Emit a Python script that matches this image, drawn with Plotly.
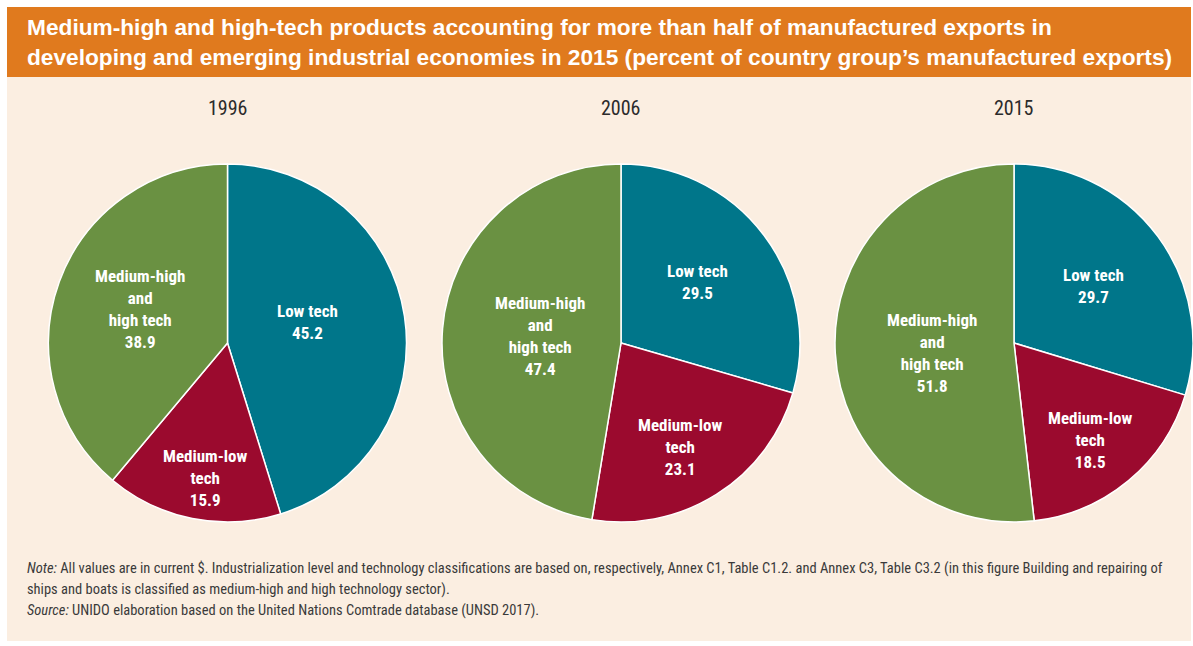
import plotly.graph_objects as go

W, H = 1193, 646

# Share of manufactured exports by technology level (percent)
years = ["1996", "2006", "2015"]
categories = ["Low tech", "Medium-low tech", "Medium-high and high tech"]
low_tech = [45.2, 29.5, 29.7]
medium_low_tech = [15.9, 23.1, 18.5]
medium_high_tech = [38.9, 47.4, 51.8]

# Multi-line forms of the category names used inside the slices
slice_names = ["Low tech", "Medium-low<br>tech", "Medium-high<br>and<br>high tech"]

colors = ["#00768A", "#9B0A2E", "#6A9142"]
ORANGE = "#E07A1E"
BEIGE = "#FBEEE1"
LABEL_FONT = "Liberation Sans Narrow, Roboto Condensed, Roboto, sans-serif"

note_lines = [
    "<i>Note:</i> All values are in current $. Industrialization level and technology classifications are based on, "
    "respectively, Annex C1, Table C1.2. and Annex C3, Table C3.2 (in this figure Building and repairing of",
    "ships and boats is classified as medium-high and high technology sector).",
    "<i>Source:</i> UNIDO elaboration based on the United Nations Comtrade database (UNSD 2017).",
]


def px(x):
    return x / W


def py(y):
    return 1 - y / H


fig = go.Figure()

# pie centres (pixels) and radius
centres_x = [227.5, 621, 1014]
centre_y = 343
radius = 179

for i, yr in enumerate(years):
    vals = [low_tech[i], medium_low_tech[i], medium_high_tech[i]]
    cx = centres_x[i]
    fig.add_trace(go.Pie(
        labels=categories,
        values=vals,
        sort=False,
        direction="clockwise",
        rotation=0,
        textinfo="none",
        hoverinfo="label+value",
        marker=dict(colors=colors, line=dict(color="#FFFFFF", width=1.5)),
        domain=dict(x=[px(cx - radius), px(cx + radius)],
                    y=[py(centre_y + radius), py(centre_y - radius)]),
        showlegend=False,
    ))

# label anchor positions (pixels) for each slice of each pie
label_pos = [
    [(307, 322), (205, 478), (140, 309)],
    [(697, 282), (680, 447), (540, 336)],
    [(1093, 286), (1090, 440), (932, 353)],
]

annotations = []
series = [low_tech, medium_low_tech, medium_high_tech]
for i, yr in enumerate(years):
    annotations.append(dict(
        x=px(centres_x[i]), y=py(108), xref="paper", yref="paper",
        text=yr, showarrow=False, xanchor="center", yanchor="middle",
        font=dict(family=LABEL_FONT, size=20, color="#2B2B2B"),
    ))
    for j in range(3):
        lx, ly = label_pos[i][j]
        annotations.append(dict(
            x=px(lx), y=py(ly), xref="paper", yref="paper",
            text=f"<b>{slice_names[j]}<br>{series[j][i]:.1f}</b>",
            showarrow=False, xanchor="center", yanchor="middle", align="center",
            font=dict(family=LABEL_FONT, size=17, color="#FFFFFF"),
        ))

# heading
annotations.append(dict(
    x=px(25), y=py(42), xref="paper", yref="paper",
    text="<b>Medium-high and high-tech products accounting for more than half of manufactured exports in<br>"
         "developing and emerging industrial economies in 2015 (percent of country group’s manufactured exports)</b>",
    showarrow=False, xanchor="left", yanchor="middle", align="left",
    font=dict(family="Liberation Sans, Arial, sans-serif", size=22.7, color="#FFFFFF"),
))

# note and source, one line each
for k, line in enumerate(note_lines):
    annotations.append(dict(
        x=px(25), y=py(568 + 21 * k), xref="paper", yref="paper",
        text=line, showarrow=False, xanchor="left", yanchor="middle", align="left",
        font=dict(family=LABEL_FONT, size=14.5, color="#3A3A3A"),
    ))

shapes = [
    dict(type="rect", xref="paper", yref="paper", x0=px(7), x1=px(1191), y0=py(641), y1=py(77),
         fillcolor=BEIGE, line=dict(width=0), layer="below"),
    dict(type="rect", xref="paper", yref="paper", x0=px(7), x1=px(1191), y0=py(77), y1=py(7),
         fillcolor=ORANGE, line=dict(width=0), layer="below"),
]

fig.update_layout(
    width=W, height=H,
    margin=dict(l=0, r=0, t=0, b=0),
    paper_bgcolor="#FFFFFF",
    plot_bgcolor="rgba(0,0,0,0)",
    shapes=shapes,
    annotations=annotations,
)

fig.write_html("out.html")
